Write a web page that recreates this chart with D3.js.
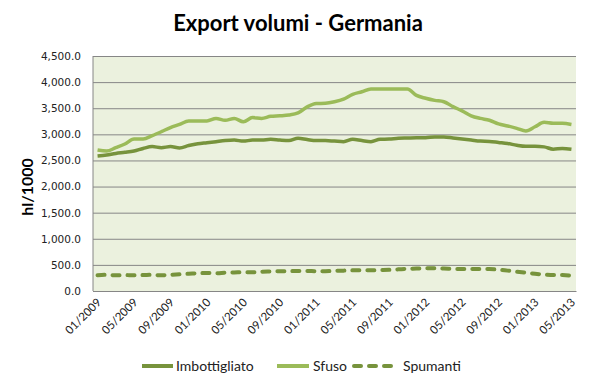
<!DOCTYPE html>
<html>
<head>
<meta charset="utf-8">
<script src="https://cdn.jsdelivr.net/npm/d3@7"></script>
<style>
  body { margin: 0; background: #fff; }
  svg { display: block; }
</style>
</head>
<body>
<div id="chart"></div>
<script>

var months = [
  "01/2009","02/2009","03/2009","04/2009","05/2009","06/2009","07/2009","08/2009","09/2009","10/2009","11/2009","12/2009",
  "01/2010","02/2010","03/2010","04/2010","05/2010","06/2010","07/2010","08/2010","09/2010","10/2010","11/2010","12/2010",
  "01/2011","02/2011","03/2011","04/2011","05/2011","06/2011","07/2011","08/2011","09/2011","10/2011","11/2011","12/2011",
  "01/2012","02/2012","03/2012","04/2012","05/2012","06/2012","07/2012","08/2012","09/2012","10/2012","11/2012","12/2012",
  "01/2013","02/2013","03/2013","04/2013","05/2013"
];

var imbottigliato = [
  2585, 2605, 2635, 2655, 2680, 2730, 2765, 2745, 2765, 2740, 2785, 2820,
  2840, 2860, 2880, 2890, 2870, 2890, 2890, 2905, 2890, 2880, 2925, 2900,
  2880, 2880, 2870, 2860, 2905, 2880, 2860, 2905, 2910, 2925, 2930, 2935,
  2935, 2950, 2950, 2930, 2910, 2890, 2870, 2865, 2845, 2825, 2790, 2770,
  2770, 2760, 2715, 2730, 2715
];

var sfuso = [
  2700, 2681, 2745, 2815, 2910, 2910, 2975, 3050, 3130, 3190, 3255, 3255,
  3255, 3305, 3270, 3305, 3240, 3320, 3305, 3345, 3355, 3370, 3410, 3525,
  3590, 3595, 3625, 3675, 3765, 3815, 3870, 3870, 3870, 3870, 3870, 3745,
  3690, 3650, 3625, 3530, 3450, 3355, 3305, 3270, 3200, 3160, 3115, 3065,
  3145, 3230, 3210, 3210, 3190
];

var spumanti = [
  300, 310, 300, 305, 300, 305, 310, 300, 310, 320, 330, 340,
  345, 340, 350, 355, 360, 360, 370, 375, 380, 380, 385, 385,
  380, 380, 385, 390, 395, 395, 395, 400, 405, 415, 425, 430,
  435, 435, 430, 425, 420, 420, 420, 420, 410, 390, 370, 350,
  330, 315, 305, 305, 295
];

var yTicks = [0, 500, 1000, 1500, 2000, 2500, 3000, 3500, 4000, 4500];
var xTickLabels = ["01/2009","05/2009","09/2009","01/2010","05/2010","09/2010","01/2011",
  "05/2011","09/2011","01/2012","05/2012","09/2012","01/2013","05/2013"];

var seriesNames = ["Imbottigliato", "Sfuso", "Spumanti"];

var width = 596, height = 386;
var margin = {top: 56, right: 20, bottom: 95, left: 93};
var plotW = width - margin.left - margin.right;
var plotH = height - margin.top - margin.bottom;

var darkGreen = "#77933c";
var lightGreen = "#9bbb59";

var svg = d3.select("#chart").append("svg")
  .attr("width", width)
  .attr("height", height);

// title
svg.append("text")
  .attr("x", 298)
  .attr("y", 31)
  .attr("text-anchor", "middle")
  .style("font-family", "Lato, 'Open Sans', sans-serif")
  .style("font-weight", "bold")
  .style("font-size", "22px")
  .style("fill", "#000")
  .text("Export volumi - Germania");

var x = d3.scalePoint()
  .domain(months)
  .range([0, plotW])
  .padding(0.5);

var y = d3.scaleLinear()
  .domain([0, 4500])
  .range([plotH, 0]);

var g = svg.append("g")
  .attr("transform", "translate(" + margin.left + "," + margin.top + ")");

g.append("rect")
  .attr("width", plotW)
  .attr("height", plotH)
  .attr("fill", "#ebf1de");

// gridlines + y labels
var yAxis = d3.axisLeft(y)
  .tickValues(yTicks)
  .tickSize(-plotW)
  .tickPadding(12)
  .tickFormat(d3.format(",.1f"));

var yg = g.append("g").attr("class", "y-axis").call(yAxis);
yg.select(".domain").remove();
yg.selectAll(".tick line").attr("stroke", "#868686").attr("stroke-width", 1);
yg.selectAll(".tick text")
  .style("font-family", "'DejaVu Sans', Verdana, sans-serif")
  .style("font-size", "10.5px")
  .style("fill", "#222");

// left axis line
g.append("line")
  .attr("x1", 0).attr("x2", 0)
  .attr("y1", 0).attr("y2", plotH)
  .attr("stroke", "#868686");

// x axis
var xAxis = d3.axisBottom(x)
  .tickValues(xTickLabels)
  .tickSize(0)
  .tickPadding(0);

var xg = g.append("g")
  .attr("class", "x-axis")
  .attr("transform", "translate(0," + plotH + ")")
  .call(xAxis);
xg.select(".domain").attr("stroke", "#868686");
xg.selectAll(".tick text")
  .style("font-family", "Lato, 'Open Sans', sans-serif")
  .style("font-size", "11.5px")
  .style("fill", "#222")
  .style("text-anchor", "end")
  .attr("dx", "0")
  .attr("dy", "0")
  .attr("transform", "translate(4,12) rotate(-45)");

// y axis title
svg.append("text")
  .attr("transform", "translate(33,187) rotate(-90)")
  .attr("text-anchor", "middle")
  .style("font-family", "Lato, 'Open Sans', sans-serif")
  .style("font-weight", "bold")
  .style("font-size", "16px")
  .style("fill", "#000")
  .text("hl/1000");

// lines
var line = d3.line()
  .x(function(d, i) { return x(months[i]); })
  .y(function(d) { return y(d); })
  .curve(d3.curveMonotoneX);

g.append("path")
  .datum(spumanti)
  .attr("fill", "none")
  .attr("stroke", darkGreen)
  .attr("stroke-width", 4)
  .attr("stroke-linecap", "round")
  .attr("stroke-dasharray", "7,8")
  .attr("d", line);

g.append("path")
  .datum(imbottigliato)
  .attr("fill", "none")
  .attr("stroke", darkGreen)
  .attr("stroke-width", 3.5)
  .attr("stroke-linejoin", "round")
  .attr("d", line);

g.append("path")
  .datum(sfuso)
  .attr("fill", "none")
  .attr("stroke", lightGreen)
  .attr("stroke-width", 3.5)
  .attr("stroke-linejoin", "round")
  .attr("d", line);

// legend
var legendItems = [
  {x1: 142, x2: 173, tx: 176, color: darkGreen, dash: null},
  {x1: 277, x2: 309, tx: 313, color: lightGreen, dash: null},
  {x1: 354, x2: 398, tx: 403, color: darkGreen, dash: "7,8"}
];

var lg = svg.append("g").attr("class", "legend");
legendItems.forEach(function(it, i) {
  lg.append("line")
    .attr("x1", it.x1).attr("x2", it.x2)
    .attr("y1", 366).attr("y2", 366)
    .attr("stroke", it.color)
    .attr("stroke-width", 4)
    .attr("stroke-linecap", it.dash ? "round" : "butt")
    .attr("stroke-dasharray", it.dash);
  lg.append("text")
    .attr("x", it.tx)
    .attr("y", 371)
    .style("font-family", "Lato, 'Open Sans', sans-serif")
    .style("font-size", "14px")
    .style("fill", "#222")
    .text(seriesNames[i]);
});

</script>
</body>
</html>
